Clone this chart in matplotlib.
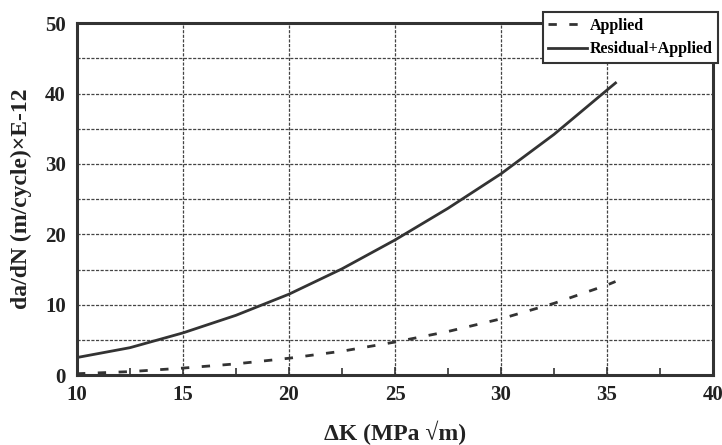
import numpy as np
import matplotlib.pyplot as plt
import matplotlib.ticker as mtick

plt.rcParams['font.family'] = ['Liberation Serif', 'DejaVu Serif']
plt.rcParams['font.weight'] = 'bold'

# crack growth rate vs stress intensity range
dk = [10, 12.5, 15, 17.5, 20, 22.5, 25, 27.5, 30, 32.5, 35, 35.4]
applied = [0.2, 0.5, 1.0, 1.6, 2.4, 3.4, 4.7, 6.2, 8.0, 10.2, 12.8, 13.3]
resid_applied = [2.5, 3.9, 6.0, 8.5, 11.5, 15.1, 19.2, 23.7, 28.6, 34.2, 40.5, 41.5]

dark = '#333333'

fig = plt.figure(figsize=(7.22, 4.45), dpi=100)
ax = fig.add_axes([0.1066, 0.157, 0.881, 0.791])

ax.plot(dk, applied, color=dark, lw=2, linestyle=(0, (3, 4.5)), label='Applied')
ax.plot(dk, resid_applied, color=dark, lw=2, label='Residual+Applied')

ax.set_xlim(10, 40)
ax.set_ylim(0, 50)
ax.xaxis.set_major_locator(mtick.MultipleLocator(5))
ax.xaxis.set_minor_locator(mtick.MultipleLocator(2.5))
ax.yaxis.set_major_locator(mtick.MultipleLocator(10))
ax.yaxis.set_minor_locator(mtick.MultipleLocator(5))

ax.grid(which='major', axis='x', color='#444444', linestyle=(0, (2.5, 1.2)), lw=0.9)
ax.grid(which='both', axis='y', color='#444444', linestyle=(0, (2.5, 1.2)), lw=0.9)

for s in ax.spines.values():
    s.set_linewidth(2.2)
    s.set_color(dark)

ax.tick_params(which='both', direction='in', colors=dark, labelsize=15, width=1.2)
ax.tick_params(which='major', length=6)
ax.tick_params(which='minor', length=5)
ax.tick_params(axis='x', which='major', pad=7)
ax.tick_params(axis='y', which='both', length=0, pad=8)
for lab in ax.get_xticklabels() + ax.get_yticklabels():
    lab.set_fontweight('bold')
    lab.set_color('#222222')

ax.set_xlabel('\u0394K (MPa \u221Am)', fontsize=17, fontweight='bold', color='#222222')
ax.xaxis.set_label_coords(0.5, -0.13)
ax.set_ylabel('da/dN (m/cycle)\u00d7E-12', fontsize=17, fontweight='bold', color='#222222')
ax.yaxis.set_label_coords(-0.07, 0.5)

leg = fig.legend(loc='upper right', bbox_to_anchor=(1.006, 0.99),
                 prop={'weight': 'bold', 'size': 11.5}, handlelength=2.4,
                 fancybox=False, framealpha=1, edgecolor=dark, borderpad=0.35,
                 handletextpad=0.2, labelspacing=0.45)
leg.get_frame().set_linewidth(1.5)

fig.savefig('out.png', dpi=100)
